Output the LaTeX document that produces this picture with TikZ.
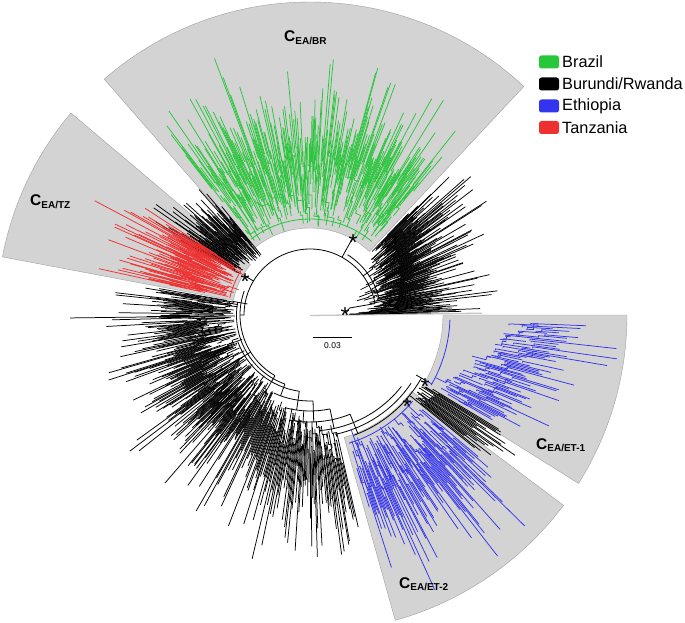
\documentclass[tikz,border=0pt]{standalone}
\usepackage{fontspec}
\setmainfont{Liberation Sans}
\definecolor{cgreen}{RGB}{40,198,58}
\definecolor{cblue}{RGB}{52,52,238}
\definecolor{cred}{RGB}{238,48,48}
\definecolor{wedgefill}{RGB}{211,211,211}
\definecolor{wedgeline}{RGB}{160,160,160}
\tikzset{
  wedge/.style={fill=wedgefill,draw=wedgeline,line width=0.4pt},
  br/.style={line width=0.75pt},
  bb/.style={line width=0.8pt,black},
  legbox/.style={rounded corners=2.5pt,minimum width=20pt,minimum height=13pt,inner sep=0pt},
  legtxt/.style={anchor=west,inner sep=0pt,font=\fontsize{16.3}{18}\selectfont},
  star/.style={anchor=base,inner sep=0pt,font=\fontsize{23}{24}\selectfont},
  clab/.style={anchor=base west,inner sep=0pt,font=\bfseries}
}
\newcommand{\wedgeat}[4]{\filldraw[wedge] (#1:#3) arc[start angle=#1,end angle=#2,radius=#3] -- (#2:#4) arc[start angle=#2,end angle=#1,radius=#4] -- cycle;}
% color, a1, a2, N, rnA, rnB, spread, lenMin, lenVar
\newcommand{\clade}[9]{%
  \foreach \i in {1,...,#4}{%
    \pgfmathsetmacro{\th}{#2+(\i-0.5)/#4*(#3-#2)+0.4*(rnd-0.5)/#4*(#3-#2)}%
    \pgfmathsetmacro{\thp}{#2+(\i-1.5)/#4*(#3-#2)}%
    \pgfmathsetmacro{\rb}{#5+(\i-0.5)/#4*(#6-#5)}%
    \pgfmathsetmacro{\rn}{\rb+#7*rnd}%
    \pgfmathsetmacro{\rt}{\rn+#8+#9*rnd*rnd}%
    \draw[br,#1] (\thp:\rn) -- (\th:\rn) -- (\th:\rt);
  }%
}
% nested internal arcs: color, a1, a2, M, rA, rB, spread
\newcommand{\nest}[7]{%
  \foreach \j in {1,...,#4}{%
    \pgfmathsetmacro{\sa}{#2+(\j-1)/#4*(#3-#2)}%
    \pgfmathsetmacro{\ea}{#2+(\j-0.1-0.5*rnd)/#4*(#3-#2)}%
    \pgfmathsetmacro{\rr}{#5+(\j-0.5)/#4*(#6-#5)+#7*rnd}%
    \pgfmathsetmacro{\rs}{\rr-6-10*rnd}%
    \draw[br,#1] (\sa:\rs) -- (\sa:\rr) arc[start angle=\sa,end angle=\ea,radius=\rr] -- ++(\ea:4);
  }%
}
\newcommand{\clab}[1]{{\fontsize{15.5}{18}\selectfont C}{\fontsize{10}{12}\selectfont\raisebox{-2.6pt}{#1}}}
\begin{document}
\begin{tikzpicture}[x=1pt,y=1pt]
\useasboundingbox (0,0) rectangle (685,622);
\fill[white] (0,0) rectangle (685,622);
\pgfmathsetseed{4242}
\begin{scope}[shift={(310,307)}]
  % highlight wedges
  \wedgeat{46.9}{131.1}{87}{313}
  \wedgeat{139.8}{169.3}{78}{313}
  \wedgeat{-32.1}{0}{133}{317}
  \wedgeat{-74.4}{-36.9}{127}{317}
  % root line
  \draw[gray!45,line width=1.3pt] (0,-0.5) -- (172,1.8);
  % backbone
  \draw[bb] (10:66) arc[start angle=10,end angle=180,radius=66];
  \draw[bb] (14:71) arc[start angle=14,end angle=58,radius=71];
  \draw[bb] (160:70) arc[start angle=160,end angle=240,radius=70];
  \draw[bb] (170:73.5) arc[start angle=170,end angle=250,radius=73.5];
  \draw[bb] (200:77) arc[start angle=200,end angle=262,radius=77];
  \draw[bb] (245:86) arc[start angle=245,end angle=272,radius=86];
  \draw[bb] (255:96) arc[start angle=255,end angle=282,radius=96];
  \draw[bb] (262:107) arc[start angle=262,end angle=292,radius=107];
  \draw[bb] (275:116) arc[start angle=275,end angle=322,radius=116];
  \draw[bb] (282:122) arc[start angle=282,end angle=326,radius=122];
  \draw[bb] (290:128) arc[start angle=290,end angle=330.5,radius=128];
  \draw[bb] (180:66) -- (180:70) (240:70) -- (240:77) (250:73.5) -- (250:86)
            (262:77) -- (262:96) (272:86) -- (272:107) (282:96) -- (282:116)
            (292:107) -- (292:128) (10:66) -- (10:40) (3:36) -- (10:40);
  % clade stems and base arcs
  \draw[bb] (61:66) -- (61:89);
  \draw[br,cgreen,line width=0.8pt] (61:89) -- (61:96);
  \draw[br,cgreen,line width=0.8pt] (50:96) arc[start angle=50,end angle=128,radius=96];
  \draw[bb] (149:66) -- (149:77);
  \draw[br,cred,line width=0.8pt] (149:77) -- (149:82);
  \draw[br,cred,line width=0.8pt] (147:82) arc[start angle=147,end angle=168,radius=82];
  \draw[br,cblue,line width=0.8pt] (-41:128) -- (-41:134);
  \draw[br,cblue,line width=0.8pt] (-73:134) arc[start angle=-73,end angle=-40,radius=134];
  \draw[bb] (-29.5:122) -- (-29.5:132);
  \draw[br,cblue,line width=0.8pt] (-29.5:132) -- (-29.5:140);
  \draw[br,cblue,line width=0.8pt] (-30:140) arc[start angle=-30,end angle=-2,radius=140];
  % nested internal structure
  \nest{cgreen}{50}{128}{60}{100}{100}{70}
  \nest{cgreen}{50}{128}{18}{98}{98}{25}
  \nest{black}{4}{46}{26}{50}{85}{35}
  \nest{cred}{147}{168}{14}{84}{84}{45}
  \nest{black}{170}{240}{40}{76}{82}{45}
  \nest{black}{240}{283}{18}{84}{118}{30}
  \nest{cblue}{-73}{-40}{24}{136}{136}{55}
  \nest{cblue}{-30}{-2}{16}{140}{200}{45}
  % clades
  \clade{black}{0.8}{3.5}{7}{36}{55}{12}{70}{60}
  \clade{black}{3.5}{46}{150}{55}{85}{32}{30}{120}
  \clade{cgreen}{50}{128}{290}{98}{98}{70}{25}{100}
  \clade{black}{129}{150}{65}{76}{80}{30}{30}{75}
  \clade{cred}{147}{168}{90}{84}{84}{52}{30}{100}
  \clade{black}{170}{240}{230}{74}{80}{48}{28}{95}
  \clade{black}{240}{283}{105}{82}{118}{35}{45}{95}
  \clade{cblue}{-73}{-40}{100}{136}{136}{62}{30}{105}
  \clade{black}{-39}{-31}{22}{128}{132}{22}{60}{70}
  \clade{cblue}{-30}{-2}{75}{140}{200}{45}{22}{80}
  \draw[br] (180.7:75) -- (180.7:240);
\end{scope}
% asterisks
\node[star] (s1) at (353,371) {*};
\node[star] (s2) at (345,299) {*};
\node[star] (s3) at (245,332) {*};
\node[star] (s4) at (425,228) {*};
\node[star] (s5) at (407,208) {*};
% clade labels
\node[clab] (lbr) at (284,580.3) {\clab{EA/BR}};
\node[clab] (ltz) at (30,416) {\clab{EA/TZ}};
\node[clab] (let1) at (536,173) {\clab{EA/ET-1}};
\node[clab] (let2) at (399,34) {\clab{EA/ET-2}};
% scale bar
\draw[line width=0.7pt] (313,285) coordinate (sb1) -- (352,285) coordinate (sb2);
\node[inner sep=0pt,font=\fontsize{8.5}{10}\selectfont] (sbt) at (332.5,276) {0.03};
% legend
\node[legbox,fill=cgreen] (k1) at (549,560) {};
\node[legbox,fill=black] (k2) at (549,538) {};
\node[legbox,fill=cblue] (k3) at (549,516) {};
\node[legbox,fill=cred] (k4) at (549,494.5) {};
\node[legtxt] (t1) at (562,560) {Brazil};
\node[legtxt] (t2) at (562,538) {Burundi/Rwanda};
\node[legtxt] (t3) at (562,516) {Ethiopia};
\node[legtxt] (t4) at (562,494.5) {Tanzania};
\end{tikzpicture}
\end{document}
